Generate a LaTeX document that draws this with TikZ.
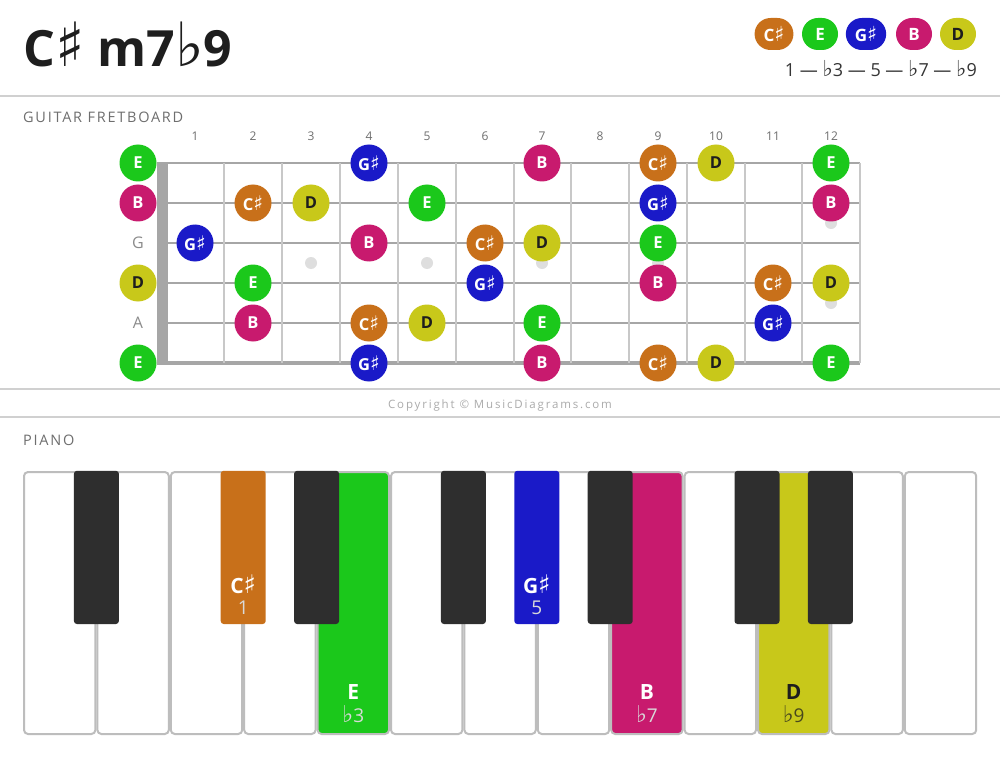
\documentclass[tikz,border=0pt]{standalone}
\usepackage{fontspec}
\setmainfont{Open Sans}
\newfontfamily\symfont{DejaVu Sans}[Scale=1.22]
\newcommand{\shrp}{{\symfont\char"266F}}
\newcommand{\flt}{{\symfont\char"266D}}

\newlength{\du}
\setlength{\du}{1pt}

\definecolor{colCs}{RGB}{200,112,26}
\definecolor{colE}{RGB}{27,200,27}
\definecolor{colGs}{RGB}{26,26,200}
\definecolor{colB}{RGB}{200,26,110}
\definecolor{colD}{RGB}{200,200,26}
\definecolor{ink}{RGB}{30,30,30}
\definecolor{labelgray}{RGB}{110,110,110}
\definecolor{sepgray}{RGB}{208,208,208}
\definecolor{stringgray}{RGB}{166,166,166}
\definecolor{fretgray}{RGB}{200,200,200}
\definecolor{keyedge}{RGB}{189,189,189}
\definecolor{blackkeycol}{RGB}{46,46,46}

\tikzset{
  sep/.style={draw=sepgray, line width=2\du},
  section/.style={anchor=base west, inner sep=0pt, text=labelgray, font=\fontsize{14.5}{14.5}\selectfont\addfontfeatures{LetterSpace=12}},
  pill/.style={rounded corners=16\du, minimum height=32\du, minimum width=36\du, inner xsep=9\du, inner ysep=0pt, text=white, font=\fontsize{17}{17}\selectfont\bfseries},
  fretnote/.style={circle, minimum size=37\du, inner sep=0pt, text=white, font=\fontsize{16.5}{16.5}\selectfont\bfseries},
  fretnum/.style={text=labelgray, font=\fontsize{12}{12}\selectfont},
  openlabel/.style={text=labelgray!80, font=\fontsize{16}{16}\selectfont},
  guitarstring/.style={draw=stringgray, line width=2.6\du},
  fretline/.style={draw=fretgray, line width=2\du},
  inlay/.style={fill=black!13},
  whitekey/.style={draw=keyedge, line width=2\du, fill=white, rounded corners=4\du},
  blackkey/.style={fill=blackkeycol, rounded corners=3\du},
  keynote/.style={text=white, font=\fontsize{21}{21}\selectfont\bfseries},
  keyint/.style={text=white!85!black, font=\fontsize{19}{19}\selectfont}
}

\begin{document}
\begin{tikzpicture}
\pgftransformxscale{1.000000}
\pgftransformyscale{-1.000000}
\useasboundingbox (0\du,0\du) rectangle (1000\du,759\du);
\fill[white] (0\du,0\du) rectangle (1000\du,759\du);
% title and legend
\node[anchor=base west, inner sep=0pt, text=ink, font=\fontsize{50}{50}\selectfont\bfseries] (title) at (23\du,67\du) {C\shrp{} m7\flt9};
\node[pill, fill=colCs] (legCs) at (774\du,34\du) {C\shrp};
\node[pill, fill=colE] (legE) at (820\du,34\du) {E};
\node[pill, fill=colGs] (legGs) at (866\du,34\du) {G\shrp};
\node[pill, fill=colB] (legB) at (914\du,34\du) {B};
\node[pill, fill=colD, text=ink] (legD) at (958\du,34\du) {D};
\node[anchor=base east, inner sep=0pt, text=ink!90, font=\fontsize{18}{18}\selectfont] (formula) at (977\du,77\du) {1 — \flt3 — 5 — \flt7 — \flt9};
\draw[sep] (0\du,96\du) -- (1000\du,96\du);
\node[section] (guitarhead) at (23\du,123\du) {GUITAR FRETBOARD};
% fret numbers
\node[fretnum] (n1) at (195\du,136\du) {1};
\node[fretnum] (n2) at (253\du,136\du) {2};
\node[fretnum] (n3) at (311\du,136\du) {3};
\node[fretnum] (n4) at (369\du,136\du) {4};
\node[fretnum] (n5) at (427\du,136\du) {5};
\node[fretnum] (n6) at (485\du,136\du) {6};
\node[fretnum] (n7) at (542\du,136\du) {7};
\node[fretnum] (n8) at (600\du,136\du) {8};
\node[fretnum] (n9) at (658\du,136\du) {9};
\node[fretnum] (n10) at (716\du,136\du) {10};
\node[fretnum] (n11) at (773\du,136\du) {11};
\node[fretnum] (n12) at (831\du,136\du) {12};
% strings
\draw[guitarstring] (157\du,163\du) -- (860\du,163\du);
\draw[guitarstring] (157\du,203\du) -- (860\du,203\du);
\draw[guitarstring] (157\du,243\du) -- (860\du,243\du);
\draw[guitarstring] (157\du,283\du) -- (860\du,283\du);
\draw[guitarstring] (157\du,323\du) -- (860\du,323\du);
\draw[guitarstring, line width=3.4\du] (157\du,363\du) -- (860\du,363\du);
% frets
\draw[fretline] (224\du,163\du) -- (224\du,363\du);
\draw[fretline] (282\du,163\du) -- (282\du,363\du);
\draw[fretline] (340\du,163\du) -- (340\du,363\du);
\draw[fretline] (398\du,163\du) -- (398\du,363\du);
\draw[fretline] (456\du,163\du) -- (456\du,363\du);
\draw[fretline] (514\du,163\du) -- (514\du,363\du);
\draw[fretline] (571\du,163\du) -- (571\du,363\du);
\draw[fretline] (629\du,163\du) -- (629\du,363\du);
\draw[fretline] (687\du,163\du) -- (687\du,363\du);
\draw[fretline] (745\du,163\du) -- (745\du,363\du);
\draw[fretline] (802\du,163\du) -- (802\du,363\du);
\draw[fretline] (860\du,163\du) -- (860\du,363\du);
\fill[stringgray] (157\du,162\du) rectangle (168\du,364\du);
% inlays
\fill[inlay] (311\du,263\du) circle (6\du);
\fill[inlay] (427\du,263\du) circle (6\du);
\fill[inlay] (542\du,263\du) circle (6\du);
\fill[inlay] (658\du,263\du) circle (6\du);
\fill[inlay] (831\du,223\du) circle (6\du);
\fill[inlay] (831\du,303\du) circle (6\du);
% string 1 (high E)
\node[fretnote, fill=colE] (s1f0) at (138\du,163\du) {E};
\node[fretnote, fill=colGs] (s1f4) at (369\du,163\du) {G\shrp};
\node[fretnote, fill=colB] (s1f7) at (542\du,163\du) {B};
\node[fretnote, fill=colCs] (s1f9) at (658\du,163\du) {C\shrp};
\node[fretnote, fill=colD, text=ink] (s1f10) at (716\du,163\du) {D};
\node[fretnote, fill=colE] (s1f12) at (831\du,163\du) {E};
% string 2 (B)
\node[fretnote, fill=colB] (s2f0) at (138\du,203\du) {B};
\node[fretnote, fill=colCs] (s2f2) at (253\du,203\du) {C\shrp};
\node[fretnote, fill=colD, text=ink] (s2f3) at (311\du,203\du) {D};
\node[fretnote, fill=colE] (s2f5) at (427\du,203\du) {E};
\node[fretnote, fill=colGs] (s2f9) at (658\du,203\du) {G\shrp};
\node[fretnote, fill=colB] (s2f12) at (831\du,203\du) {B};
% string 3 (G)
\node[openlabel] (s3f0) at (138\du,243\du) {G};
\node[fretnote, fill=colGs] (s3f1) at (195\du,243\du) {G\shrp};
\node[fretnote, fill=colB] (s3f4) at (369\du,243\du) {B};
\node[fretnote, fill=colCs] (s3f6) at (485\du,243\du) {C\shrp};
\node[fretnote, fill=colD, text=ink] (s3f7) at (542\du,243\du) {D};
\node[fretnote, fill=colE] (s3f9) at (658\du,243\du) {E};
% string 4 (D)
\node[fretnote, fill=colD, text=ink] (s4f0) at (138\du,283\du) {D};
\node[fretnote, fill=colE] (s4f2) at (253\du,283\du) {E};
\node[fretnote, fill=colGs] (s4f6) at (485\du,283\du) {G\shrp};
\node[fretnote, fill=colB] (s4f9) at (658\du,283\du) {B};
\node[fretnote, fill=colCs] (s4f11) at (773\du,283\du) {C\shrp};
\node[fretnote, fill=colD, text=ink] (s4f12) at (831\du,283\du) {D};
% string 5 (A)
\node[openlabel] (s5f0) at (138\du,323\du) {A};
\node[fretnote, fill=colB] (s5f2) at (253\du,323\du) {B};
\node[fretnote, fill=colCs] (s5f4) at (369\du,323\du) {C\shrp};
\node[fretnote, fill=colD, text=ink] (s5f5) at (427\du,323\du) {D};
\node[fretnote, fill=colE] (s5f7) at (542\du,323\du) {E};
\node[fretnote, fill=colGs] (s5f11) at (773\du,323\du) {G\shrp};
% string 6 (low E)
\node[fretnote, fill=colE] (s6f0) at (138\du,363\du) {E};
\node[fretnote, fill=colGs] (s6f4) at (369\du,363\du) {G\shrp};
\node[fretnote, fill=colB] (s6f7) at (542\du,363\du) {B};
\node[fretnote, fill=colCs] (s6f9) at (658\du,363\du) {C\shrp};
\node[fretnote, fill=colD, text=ink] (s6f10) at (716\du,363\du) {D};
\node[fretnote, fill=colE] (s6f12) at (831\du,363\du) {E};
\draw[sep] (0\du,389\du) -- (1000\du,389\du);
\node[text=black!33, font=\fontsize{11.5}{11.5}\selectfont\addfontfeatures{LetterSpace=16}] (copyright) at (500\du,406\du) {Copyright © MusicDiagrams.com};
\draw[sep] (0\du,417\du) -- (1000\du,417\du);
\node[section] (pianohead) at (23\du,445\du) {PIANO};
% white keys
\draw[whitekey] (24\du,472\du) rectangle (95.4\du,734\du);
\draw[whitekey] (97.4\du,472\du) rectangle (168.8\du,734\du);
\draw[whitekey] (170.8\du,472\du) rectangle (242.2\du,734\du);
\draw[whitekey] (244.2\du,472\du) rectangle (315.6\du,734\du);
\draw[whitekey, fill=colE] (317.6\du,472\du) rectangle (389\du,734\du);
\draw[whitekey] (391\du,472\du) rectangle (462.4\du,734\du);
\draw[whitekey] (464.4\du,472\du) rectangle (535.8\du,734\du);
\draw[whitekey] (537.8\du,472\du) rectangle (609.2\du,734\du);
\draw[whitekey, fill=colB] (611.2\du,472\du) rectangle (682.6\du,734\du);
\draw[whitekey] (684.6\du,472\du) rectangle (756\du,734\du);
\draw[whitekey, fill=colD] (758\du,472\du) rectangle (829.4\du,734\du);
\draw[whitekey] (831.4\du,472\du) rectangle (902.8\du,734\du);
\draw[whitekey] (904.8\du,472\du) rectangle (976.2\du,734\du);
% black keys
\fill[blackkey] (73.9\du,470.8\du) rectangle (118.9\du,624\du);
\fill[blackkey, fill=colCs] (220.7\du,470.8\du) rectangle (265.7\du,624\du);
\fill[blackkey] (294.1\du,470.8\du) rectangle (339.1\du,624\du);
\fill[blackkey] (440.9\du,470.8\du) rectangle (485.9\du,624\du);
\fill[blackkey, fill=colGs] (514.3\du,470.8\du) rectangle (559.3\du,624\du);
\fill[blackkey] (587.7\du,470.8\du) rectangle (632.7\du,624\du);
\fill[blackkey] (734.5\du,470.8\du) rectangle (779.5\du,624\du);
\fill[blackkey] (807.9\du,470.8\du) rectangle (852.9\du,624\du);
% key labels
\node[keynote] (keyCs) at (243.2\du,584\du) {C\shrp};
\node[keyint] (keyCsInt) at (243.2\du,608\du) {1};
\node[keynote] (keyGs) at (536.8\du,584\du) {G\shrp};
\node[keyint] (keyGsInt) at (536.8\du,608\du) {5};
\node[keynote] (keyE) at (353.3\du,692\du) {E};
\node[keyint] (keyEInt) at (353.3\du,714\du) {\flt3};
\node[keynote] (keyB) at (646.9\du,692\du) {B};
\node[keyint] (keyBInt) at (646.9\du,714\du) {\flt7};
\node[keynote, text=ink] (keyD) at (793.7\du,692\du) {D};
\node[keyint, text=ink!75!colD] (keyDInt) at (793.7\du,714\du) {\flt9};
\end{tikzpicture}
\end{document}
